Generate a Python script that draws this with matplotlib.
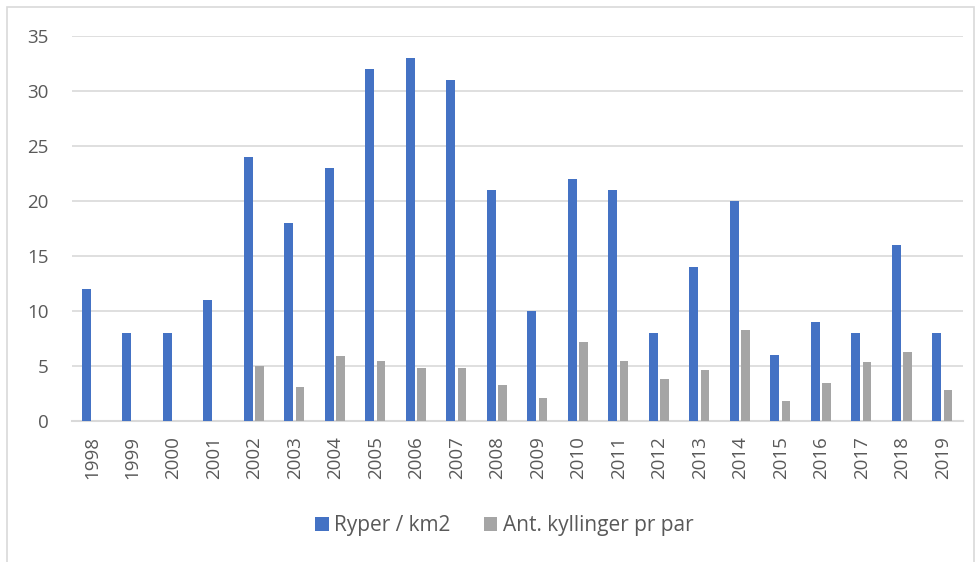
import matplotlib
matplotlib.use("Agg")
import matplotlib.pyplot as plt
import numpy as np
from matplotlib.patches import Rectangle

years = [str(y) for y in range(1998, 2020)]
ryper_km2 = [12, 8, 8, 11, 24, 18, 23, 32, 33, 31, 21, 10, 22, 21, 8, 14, 20, 6, 9, 8, 16, 8]
kyllinger_pr_par = [0, 0, 0, 0, 5.0, 3.1, 5.9, 5.5, 4.8, 4.8, 3.3, 2.1, 7.2, 5.5, 3.8, 4.6,
                    8.3, 1.8, 3.5, 5.4, 6.3, 2.8]
yticks = [0, 5, 10, 15, 20, 25, 30, 35]

BLUE = "#4472c4"
GREY = "#a5a5a5"
TEXT = "#595959"
GRID = "#d9d9d9"

plt.rcParams["font.family"] = ["Open Sans", "DejaVu Sans"]

fig = plt.figure(figsize=(9.8, 5.62), dpi=100)
fig.patches.append(Rectangle((7 / 980, -0.01), 967 / 980, 1 - 7 / 562 + 0.01,
                             transform=fig.transFigure, fill=False,
                             edgecolor=GRID, linewidth=1.2))

ax = fig.add_axes([72 / 980, (562 - 421) / 562, (963 - 72) / 980, (421 - 36) / 562])

x = np.arange(len(years))
width = 0.22
ax.bar(x - 0.145, ryper_km2, width, color=BLUE, label="Ryper / km2", zorder=3)
ax.bar(x + 0.13, kyllinger_pr_par, width, color=GREY, label="Ant. kyllinger pr par", zorder=3)

ax.set_xlim(-0.5, len(years) - 0.5)
ax.set_ylim(0, 35)
ax.set_yticks(yticks)
ax.set_xticks(x)
ax.set_xticklabels(years, rotation=90)
ax.yaxis.grid(True, color=GRID, linewidth=1.2, zorder=0)
ax.tick_params(axis="both", length=0, colors=TEXT, labelsize=13.5)
ax.tick_params(axis="y", pad=17)
ax.tick_params(axis="x", pad=11)
for side in ["top", "right", "left"]:
    ax.spines[side].set_visible(False)
ax.spines["bottom"].set_color(GRID)
ax.spines["bottom"].set_linewidth(1.5)

leg = fig.legend(loc="center", bbox_to_anchor=(504 / 980, 1 - 526 / 562), ncol=2,
                 frameon=False, fontsize=15, handlelength=0.67, handleheight=0.67,
                 handletextpad=0.25, columnspacing=1.6)
for t in leg.get_texts():
    t.set_color(TEXT)

fig.savefig("out.png", dpi=100)
